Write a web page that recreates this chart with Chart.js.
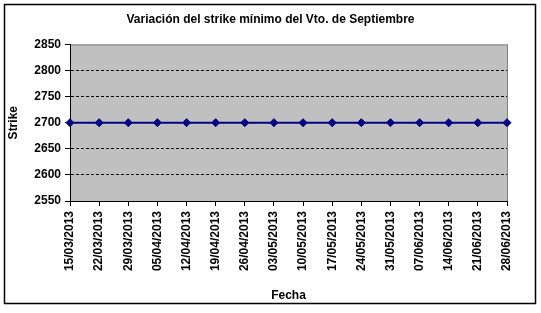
<!DOCTYPE html>
<html>
<head>
<meta charset="utf-8">
<script src="https://cdn.jsdelivr.net/npm/chart.js@4/dist/chart.umd.min.js"></script>
<style>
    html, body { margin: 0; padding: 0; background: #fff; }
    #wrap { width: 541px; height: 313px; }
</style>
</head>
<body>
<div id="wrap"><canvas id="chart" width="541" height="313"></canvas></div>
<script>
var fechas = ["15/03/2013", "22/03/2013", "29/03/2013", "05/04/2013", "12/04/2013", "19/04/2013",
    "26/04/2013", "03/05/2013", "10/05/2013", "17/05/2013", "24/05/2013", "31/05/2013",
    "07/06/2013", "14/06/2013", "21/06/2013", "28/06/2013"];
var strikeMinimo = [2700, 2700, 2700, 2700, 2700, 2700, 2700, 2700,
    2700, 2700, 2700, 2700, 2700, 2700, 2700, 2700];
var yMin = 2550;
var yMax = 2850;
var yStep = 50;

var fontFamily = "'Liberation Sans', Arial, sans-serif";

// fondo gris del area de trazado y marco exterior
var excelLook = {
    id: "excelLook",
    beforeDraw: function (chart) {
        var ctx = chart.ctx;
        var a = chart.chartArea;
        ctx.save();
        ctx.fillStyle = "#fff";
        ctx.fillRect(0, 0, chart.width, chart.height);
        ctx.strokeStyle = "#000";
        ctx.lineWidth = 1.5;
        ctx.strokeRect(4.5, 4.5, 531, 299);
        ctx.fillStyle = "#c0c0c0";
        ctx.fillRect(a.left, a.top, a.right - a.left, a.bottom - a.top);
        ctx.strokeStyle = "#808080";
        ctx.lineWidth = 1;
        ctx.strokeRect(a.left + 0.5, a.top + 0.5, a.right - a.left, a.bottom - a.top);
        ctx.restore();
    }
};

var ctx = document.getElementById("chart");
var chart = new Chart(ctx, {
    type: "line",
    data: {
        labels: fechas,
        datasets: [
            {
                label: "Strike mínimo",
                data: strikeMinimo,
                borderColor: "#000080",
                backgroundColor: "#000080",
                borderWidth: 2,
                pointStyle: "rectRot",
                pointRadius: 4,
                pointBorderWidth: 1,
                tension: 0
            }
        ]
    },
    options: {
        responsive: false,
        animation: false,
        layout: { padding: 0 },
        plugins: {
            legend: { display: false },
            tooltip: { enabled: false },
            title: {
                display: true,
                text: "Variación del strike mínimo del Vto. de Septiembre",
                color: "#000",
                font: { family: fontFamily, size: 12, weight: "bold" },
                padding: { top: 12, bottom: 18 }
            }
        },
        scales: {
            x: {
                offset: false,
                border: { display: true, color: "#000", width: 1 },
                grid: { display: true, drawOnChartArea: false, drawTicks: true, tickLength: 5, tickColor: "#000" },
                ticks: {
                    color: "#000",
                    font: { family: fontFamily, size: 12, weight: "bold" },
                    minRotation: 90,
                    maxRotation: 90,
                    autoSkip: false,
                    padding: 5
                },
                title: {
                    display: true,
                    text: "Fecha",
                    color: "#000",
                    font: { family: fontFamily, size: 12, weight: "bold" },
                    padding: { top: 0, bottom: 10 }
                },
                afterFit: function (scale) { scale.height = 112; }
            },
            y: {
                min: yMin,
                max: yMax,
                border: { display: true, color: "#000", width: 1, dash: [3, 2] },
                grid: {
                    color: function (c) {
                        if (c.tick && (c.tick.value === yMin || c.tick.value === yMax)) return "rgba(0,0,0,0)";
                        return "#000";
                    },
                    tickColor: "#000",
                    tickLength: 5
                },
                ticks: {
                    stepSize: yStep,
                    color: "#000",
                    padding: 4,
                    font: { family: fontFamily, size: 12, weight: "bold" },
                    callback: function (value) { return String(value); }
                },
                title: {
                    display: true,
                    text: "Strike",
                    color: "#000",
                    font: { family: fontFamily, size: 12, weight: "bold" },
                    padding: { top: 6, bottom: 0 }
                },
                afterFit: function (scale) { scale.width = 70; }
            },
            y2: {
                position: "right",
                display: true,
                min: yMin,
                max: yMax,
                border: { display: false },
                grid: { display: false },
                ticks: { display: false },
                afterFit: function (scale) { scale.width = 34; }
            }
        }
    },
    plugins: [excelLook]
});
</script>
</body>
</html>
